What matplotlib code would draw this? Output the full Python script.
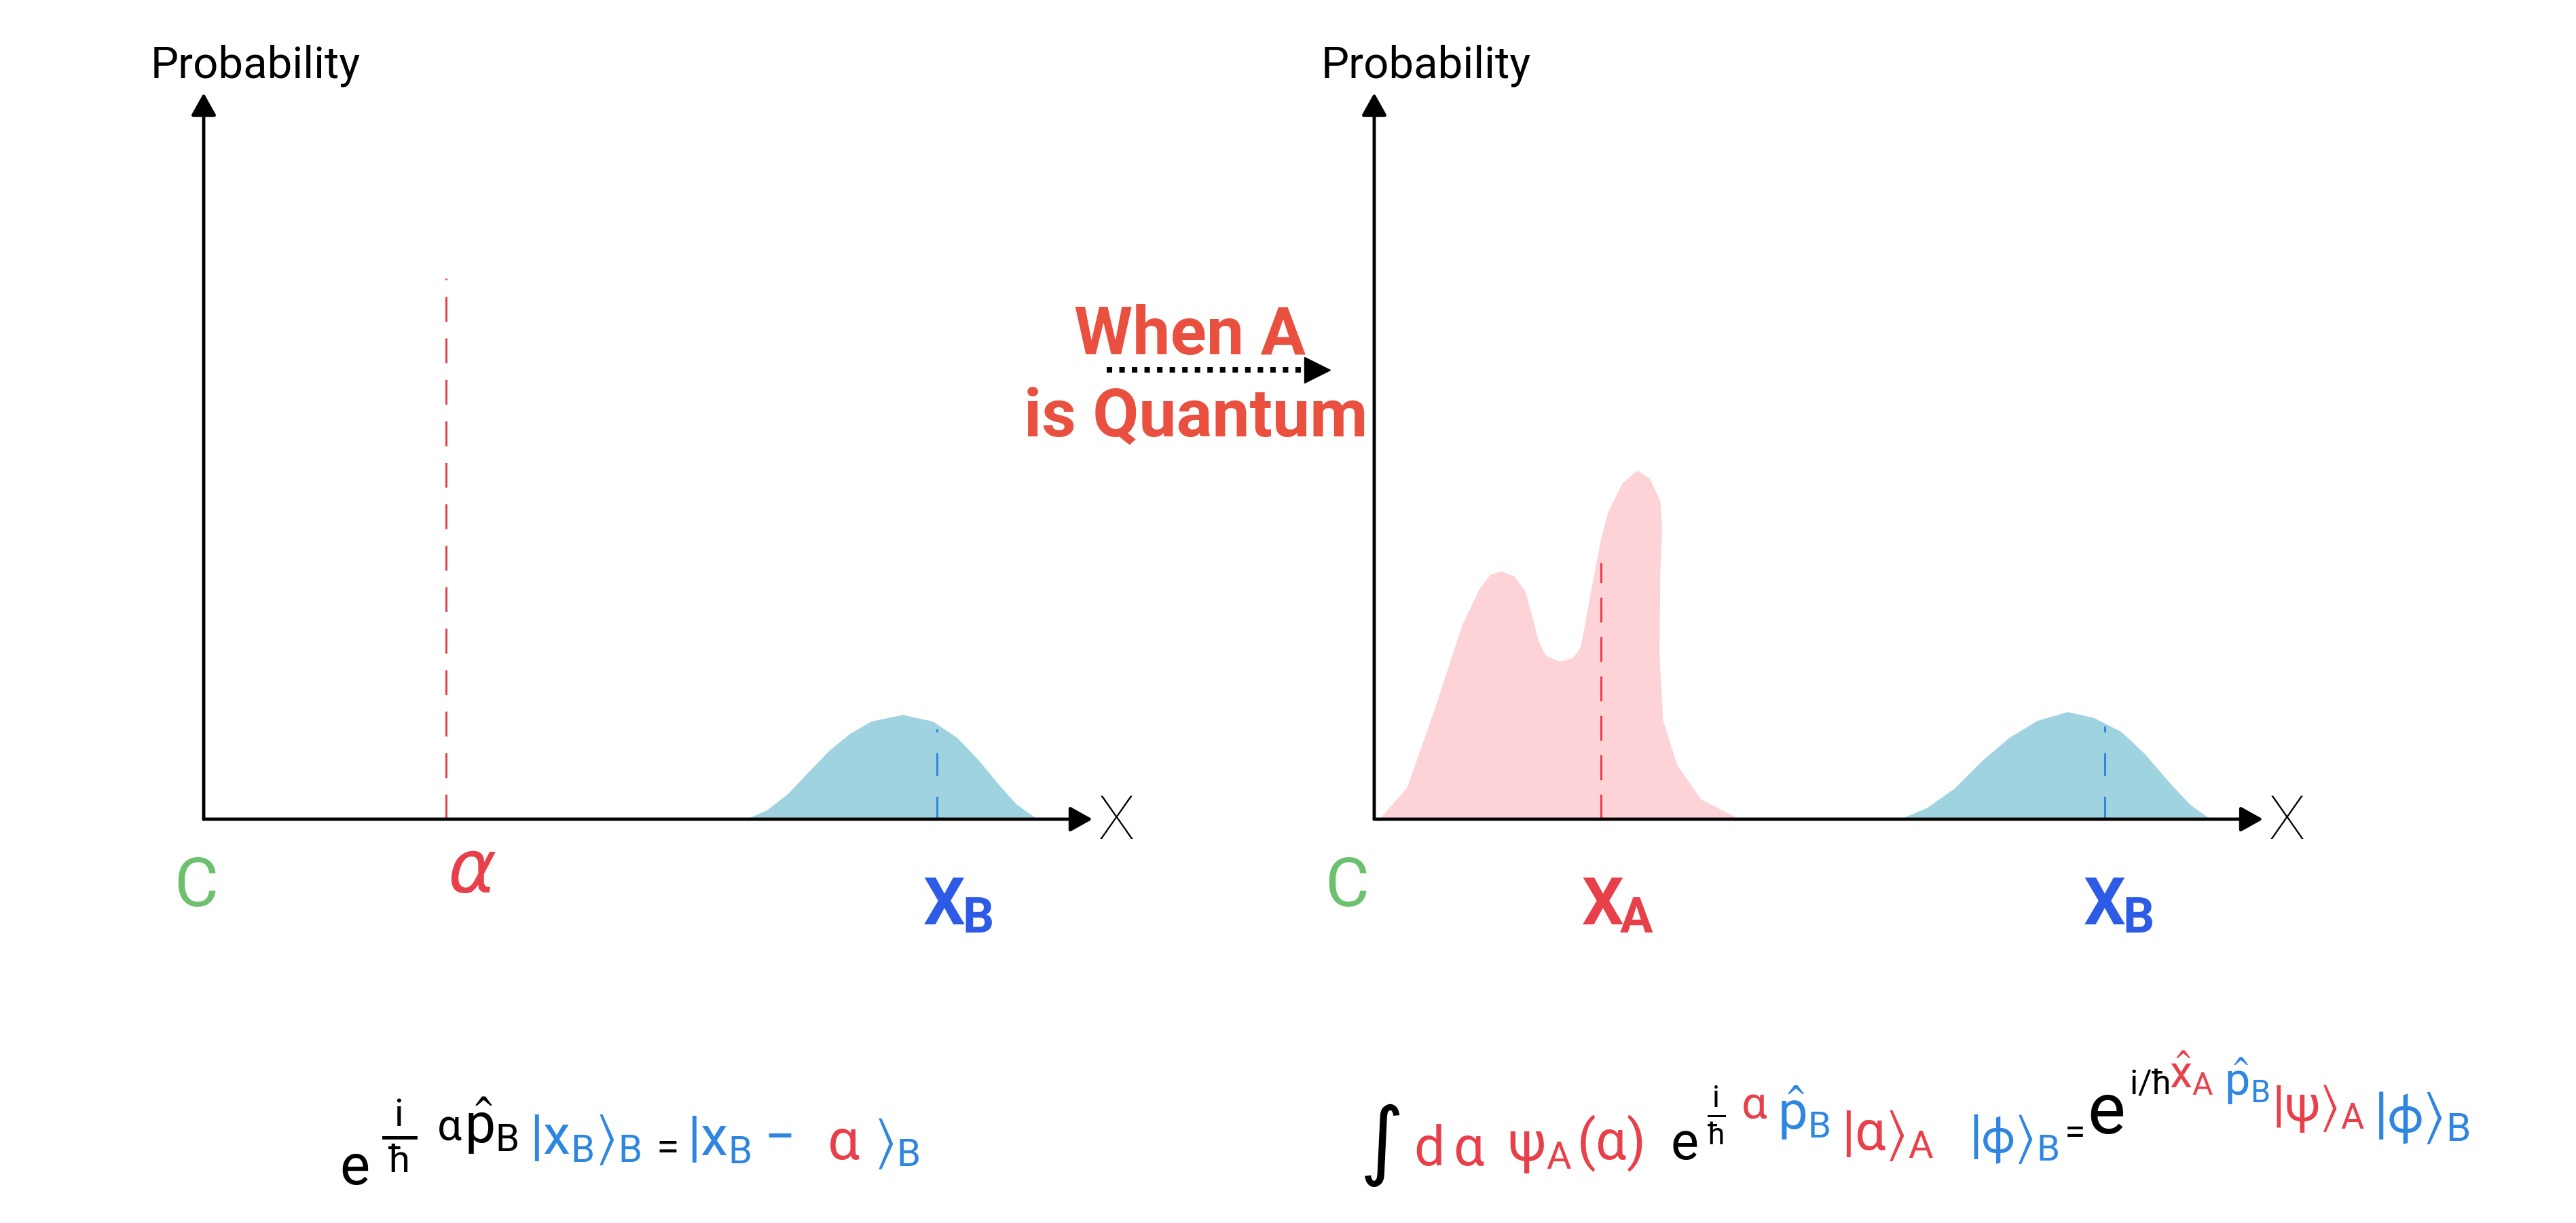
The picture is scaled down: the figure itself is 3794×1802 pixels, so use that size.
import numpy as np
import matplotlib.pyplot as plt

W, H = 3794, 1802
plt.rcParams['font.family'] = ['Roboto', 'DejaVu Sans']
plt.rcParams['mathtext.fontset'] = 'dejavusans'
plt.rcParams['mathtext.default'] = 'regular'

RED = '#E8404A'
TITLE_RED = '#E9503F'
BLUE = '#2E5BE6'
EQ_BLUE = '#2F86E0'
GREEN = '#6DC06E'
PINK = '#FDD3D8'
TEAL = '#A0D3E0'

# blue packet of B (classical case, left panel)
bump_x_left = [6.10, 6.34, 6.57, 6.81, 7.04, 7.27, 7.51, 7.86, 8.20, 8.48, 8.72, 8.95, 9.14, 9.38]
bump_p_left = [0, 0.013, 0.035, 0.066, 0.095, 0.118, 0.135, 0.144, 0.135, 0.112, 0.081, 0.047, 0.021, 0]
# blue packet of B (right panel)
bump_x_right = [5.91, 6.22, 6.53, 6.84, 7.15, 7.46, 7.80, 8.09, 8.40, 8.67, 8.95, 9.18, 9.41]
bump_p_right = [0, 0.016, 0.043, 0.081, 0.113, 0.136, 0.148, 0.140, 0.121, 0.090, 0.050, 0.020, 0]
# pink wavefunction of A (quantum case), traced as an outline
psi_x = [0.06, 0.37, 0.68, 0.99, 1.19, 1.31, 1.44, 1.58, 1.70, 1.77, 1.85, 1.93, 2.09, 2.24, 2.32,
         2.36, 2.44, 2.55, 2.63, 2.79, 2.96, 3.10, 3.22, 3.24, 3.22, 3.21, 3.25, 3.41, 3.68, 4.11]
psi_p = [0, 0.043, 0.151, 0.267, 0.318, 0.337, 0.341, 0.334, 0.314, 0.283, 0.245, 0.225, 0.217, 0.222, 0.236,
         0.260, 0.314, 0.384, 0.422, 0.462, 0.480, 0.469, 0.438, 0.399, 0.345, 0.229, 0.136, 0.074, 0.027, 0]

alpha_pos, alpha_top = 2.73, 0.745
xa_pos, xa_top = 2.55, 0.353
xb_left, xb_left_top = 8.25, 0.124
xb_right, xb_right_top = 8.22, 0.128

fig = plt.figure(figsize=(W / 100, H / 100), dpi=100)


def panel(x0):
    ax = fig.add_axes([x0 / W, 1 - 1207 / H, 1309 / W, 1070 / H])
    ax.set_xlim(0, 10)
    ax.set_ylim(0, 1)
    ax.axis('off')
    arrow = dict(arrowstyle='-|>,head_length=0.5,head_width=0.28', lw=3.5, color='k',
                 shrinkA=0, shrinkB=0, mutation_scale=40)
    ax.annotate('', xy=(10, 0), xytext=(0, 0), arrowprops=arrow, zorder=5)
    ax.annotate('', xy=(0, 1), xytext=(0, 0), arrowprops=arrow, zorder=5)
    ax.text(10.27, -0.004, 'X', fontsize=64, fontweight='light', ha='center', va='center')
    ax.text(-0.6, 1.021, 'Probability', fontsize=47, ha='left', va='baseline')
    return ax


def xlabel(ax, x, letter, sub, color):
    ax.text(x, -0.145, letter, fontsize=70, fontweight='bold', color=color, ha='center', va='baseline')
    ax.text(x + 0.38, -0.156, sub, fontsize=52, fontweight='bold', color=color, ha='center', va='baseline')


# left panel: A classical
axl = panel(300)
axl.fill_between(bump_x_left, bump_p_left, color=TEAL, lw=0, zorder=1)
axl.plot([alpha_pos, alpha_pos], [0, alpha_top], color=RED, lw=2.2, ls=(0, (12, 8)), zorder=3)
axl.plot([xb_left, xb_left], [0, xb_left_top], color=EQ_BLUE, lw=2.2, ls=(0, (11, 10)), zorder=3)
axl.text(-0.09, -0.12, 'C', fontsize=72, color=GREEN, ha='center', va='baseline')
axl.text(3.02, -0.10, r'$\mathit{\alpha}$', fontsize=78, color=RED, ha='center', va='baseline')
xlabel(axl, 8.33, 'X', 'B', BLUE)

# right panel: A quantum
axr = panel(2024)
axr.fill(psi_x, psi_p, color=PINK, lw=0, zorder=1)
axr.fill_between(bump_x_right, bump_p_right, color=TEAL, lw=0, zorder=1)
axr.plot([xa_pos, xa_pos], [0, xa_top], color=RED, lw=2.2, ls=(0, (12, 7)), zorder=3)
axr.plot([xb_right, xb_right], [0, xb_right_top], color=EQ_BLUE, lw=2.2, ls=(0, (11, 10)), zorder=3)
axr.text(-0.31, -0.12, 'C', fontsize=72, color=GREEN, ha='center', va='baseline')
xlabel(axr, 2.57, 'X', 'A', RED)
xlabel(axr, 8.22, 'X', 'B', BLUE)

# overlay in pixel units for the title arrow and the equations
top = fig.add_axes([0, 0, 1, 1])
top.set_xlim(0, W)
top.set_ylim(H, 0)
top.axis('off')
top.patch.set_alpha(0)

top.text(1752, 522, 'When A', fontsize=71, fontweight='bold', color=TITLE_RED, ha='center', va='baseline')
top.text(1761, 642, 'is Quantum', fontsize=71, fontweight='bold', color=TITLE_RED, ha='center', va='baseline')
top.plot([1630, 1922], [545, 545], color='k', lw=5.8, ls=(0, (1, 1.3)), dash_capstyle='butt')
top.plot([1940], [545], marker='>', ms=28, color='k')

# (text, colour, size, left x, y, vertical alignment)
left_eq = [
    (r'$e$', 'k', 60, 500, 1745, 'baseline'),
    (r'$\frac{\,i\,}{\,\hbar\,}$', 'k', 58, 562, 1673, 'center'),
    (r'$\alpha$', 'k', 46, 643, 1680, 'baseline'),
    (r'$\hat{p}_B$', 'k', 58, 684, 1684, 'baseline'),
    (r'$|x_B\rangle_B$', EQ_BLUE, 58, 780, 1700, 'baseline'),
    (r'$=$', 'k', 44, 955, 1708, 'baseline'),
    (r'$|x_B -$', EQ_BLUE, 58, 1012, 1702, 'baseline'),
    (r'$\alpha$', RED, 60, 1218, 1708, 'baseline'),
    (r'$\rangle_B$', EQ_BLUE, 58, 1288, 1706, 'baseline'),
]
right_eq = [
    (r'$\int$', 'k', 64, 2002, 1722, 'baseline'),
    (r'$d\,\alpha$', RED, 58, 2082, 1717, 'baseline'),
    (r'$\psi_A$', RED, 58, 2220, 1710, 'baseline'),
    (r'$(\alpha)$', RED, 58, 2322, 1708, 'baseline'),
    (r'$e$', 'k', 56, 2460, 1708, 'baseline'),
    (r'$\frac{i}{\hbar}$', 'k', 46, 2514, 1643, 'center'),
    (r'$\alpha$', RED, 48, 2564, 1647, 'baseline'),
    (r'$\hat{p}_B$', EQ_BLUE, 56, 2618, 1664, 'baseline'),
    (r'$|\alpha\rangle_A$', RED, 58, 2712, 1694, 'baseline'),
    (r'$|\phi\rangle_B$', EQ_BLUE, 56, 2900, 1698, 'baseline'),
    (r'$=$', 'k', 40, 3030, 1684, 'baseline'),
    (r'$e$', 'k', 76, 3074, 1670, 'baseline'),
    (r'$i/\hbar$', 'k', 36, 3136, 1612, 'baseline'),
    (r'$\hat{x}_A$', RED, 48, 3195, 1604, 'baseline'),
    (r'$\hat{p}_B$', EQ_BLUE, 48, 3276, 1614, 'baseline'),
    (r'$|\psi\rangle_A$', RED, 54, 3346, 1652, 'baseline'),
    (r'$|\phi\rangle_B$', EQ_BLUE, 60, 3496, 1668, 'baseline'),
]
for s, c, size, x, y, va in left_eq + right_eq:
    top.text(x, y, s, color=c, fontsize=size, ha='left', va=va)

fig.savefig('out.png', dpi=100, facecolor='white')
